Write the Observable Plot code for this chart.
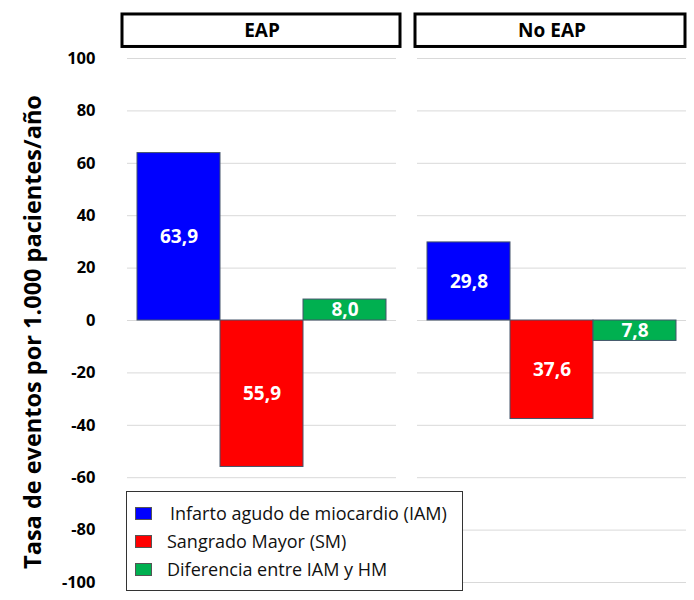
<!DOCTYPE html>
<html>
<head>
<meta charset="utf-8">
<script src="https://cdn.jsdelivr.net/npm/d3@7"></script>
<script src="https://cdn.jsdelivr.net/npm/@observablehq/plot@0.6"></script>
<style>
  body { margin: 0; background: white; font-family: "Open Sans", sans-serif; }
  #wrap { position: relative; width: 694px; height: 600px; }
  #legend { position: absolute; left: 126px; top: 491px; width: 337px; height: 100px; border: 1px solid #333; background: white; box-sizing: border-box; }
  .row { position: absolute; left: 0; height: 20px; display: flex; align-items: center; font-size: 18px; color: #111; white-space: nowrap; }
  .sw { width: 17px; height: 13px; margin-left: 8px; margin-right: 18px; box-sizing: border-box; border: 1px solid #555; flex: none; }
</style>
</head>
<body>
<div id="wrap"><div id="chart"></div><div id="legend"></div></div>
<script>
const groups = ["EAP", "No EAP"];
const categories = ["Infarto agudo de miocardio (IAM)", "Sangrado Mayor (SM)", "Diferencia entre IAM y HM"];
const eapValues = [63.9, -55.9, 8.0];
const noEapValues = [29.8, -37.6, -7.8];
const colors = ["#0000ff", "#ff0000", "#00b050"];
const yTicks = [-100, -80, -60, -40, -20, 0, 20, 40, 60, 80, 100];
const yLabel = "Tasa de eventos por 1.000 pacientes/año";

const data = [];
categories.forEach((c, i) => data.push({group: groups[0], cat: c, value: eapValues[i]}));
categories.forEach((c, i) => data.push({group: groups[1], cat: c, value: noEapValues[i]}));

const fmt = v => Math.abs(v).toFixed(1).replace(".", ",");
const headerBox = {y1: () => 104.4, y2: () => 116.8, fill: "white", stroke: "black", strokeWidth: 3};

const plot = Plot.plot({
  width: 694,
  height: 600,
  marginLeft: 127,
  marginRight: 7,
  marginTop: 58,
  marginBottom: 18,
  style: {fontFamily: "Open Sans", background: "white"},
  fx: {domain: groups, axis: null, paddingInner: 0.0723, paddingOuter: 0},
  x: {domain: categories, axis: null, paddingInner: 0, paddingOuter: 0.104},
  y: {domain: [-100, 100], axis: null},
  color: {domain: categories, range: colors},
  marks: [
    Plot.gridY(yTicks, {stroke: "#d9d9d9", strokeOpacity: 1, strokeWidth: 1}),
    Plot.axisY(yTicks, {tickSize: 0, tickPadding: 32, fontSize: 16.5, fontWeight: "bold", tickFormat: d => String(d), label: null}),
    Plot.barY(data, {fx: "group", x: "cat", y: "value", fill: "cat", stroke: "#44546a", strokeWidth: 1}),
    Plot.text(data, {fx: "group", x: "cat", y: d => d.value / 2, text: d => fmt(d.value), fill: "white", fontWeight: "bold", fontSize: 19}),
    Plot.rect([groups[0]], {fx: d => d, ...headerBox, insetLeft: -5, insetRight: -4}),
    Plot.rect([groups[1]], {fx: d => d, ...headerBox, insetLeft: -2, insetRight: 1}),
    Plot.text(groups, {fx: d => d, y: () => 110.6, text: d => d, fontWeight: "bold", fontSize: 19, fill: "black"})
  ]
});

d3.select(plot).append("text")
  .attr("transform", "translate(35,332) rotate(-90)")
  .attr("text-anchor", "middle")
  .attr("dominant-baseline", "middle")
  .attr("font-family", "Open Sans")
  .attr("font-weight", "bold")
  .attr("font-size", 23.5)
  .attr("fill", "black")
  .text(yLabel);

document.getElementById("chart").appendChild(plot);

const legend = document.getElementById("legend");
const rowTops = [11, 39, 67];
const textOffsets = [0, -3, -3];
categories.forEach((c, i) => {
  const row = document.createElement("div");
  row.className = "row";
  row.style.top = rowTops[i] + "px";
  const sw = document.createElement("div");
  sw.className = "sw";
  sw.style.background = colors[i];
  const t = document.createElement("span");
  t.textContent = c;
  t.style.marginLeft = textOffsets[i] + "px";
  row.appendChild(sw);
  row.appendChild(t);
  legend.appendChild(row);
});
</script>
</body>
</html>
